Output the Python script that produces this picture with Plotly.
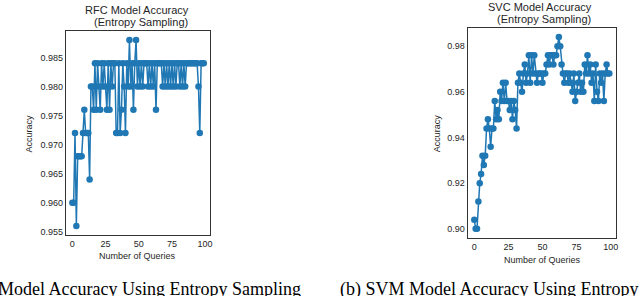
import plotly.graph_objects as go

# ---------------- data ----------------
queries = list(range(100))

rfc_accuracy = [
    0.960, 0.960, 0.972, 0.956, 0.968, 0.968, 0.968, 0.968, 0.972, 0.976,
    0.972, 0.972, 0.972, 0.964, 0.980, 0.980, 0.976, 0.984, 0.976, 0.984,
    0.980, 0.976, 0.984, 0.980, 0.984, 0.980, 0.976, 0.984, 0.976, 0.984,
    0.980, 0.984, 0.984, 0.972, 0.972, 0.984, 0.972, 0.976, 0.984, 0.980,
    0.972, 0.984, 0.980, 0.988, 0.980, 0.984, 0.976, 0.984, 0.988, 0.980,
    0.984, 0.980, 0.984, 0.980, 0.984, 0.984, 0.984, 0.980, 0.984, 0.980,
    0.984, 0.980, 0.984, 0.976, 0.984, 0.984, 0.984, 0.984, 0.980, 0.984,
    0.980, 0.984, 0.980, 0.984, 0.980, 0.984, 0.980, 0.984, 0.980, 0.984,
    0.984, 0.980, 0.984, 0.980, 0.984, 0.980, 0.984, 0.984, 0.984, 0.984,
    0.984, 0.984, 0.984, 0.984, 0.984, 0.980, 0.972, 0.984, 0.984, 0.984,
]

svc_accuracy = [
    0.904, 0.900, 0.900, 0.912, 0.920, 0.924, 0.932, 0.928, 0.932, 0.944,
    0.948, 0.944, 0.936, 0.944, 0.944, 0.956, 0.948, 0.952, 0.948, 0.960,
    0.956, 0.964, 0.956, 0.964, 0.956, 0.956, 0.952, 0.956, 0.948, 0.956,
    0.952, 0.944, 0.964, 0.968, 0.964, 0.960, 0.968, 0.972, 0.964, 0.968,
    0.976, 0.964, 0.976, 0.968, 0.976, 0.968, 0.964, 0.968, 0.968, 0.968,
    0.964, 0.968, 0.968, 0.972, 0.976, 0.972, 0.976, 0.976, 0.972, 0.976,
    0.976, 0.980, 0.984, 0.980, 0.972, 0.968, 0.964, 0.968, 0.968, 0.964,
    0.968, 0.964, 0.960, 0.968, 0.956, 0.960, 0.964, 0.968, 0.960, 0.964,
    0.960, 0.972, 0.968, 0.976, 0.968, 0.972, 0.964, 0.968, 0.956, 0.972,
    0.960, 0.956, 0.968, 0.964, 0.968, 0.956, 0.968, 0.972, 0.968, 0.968,
]

x_ticks = [0, 25, 50, 75, 100]
rfc_y_ticks = [0.955, 0.960, 0.965, 0.970, 0.975, 0.980, 0.985]
svc_y_ticks = [0.90, 0.92, 0.94, 0.96, 0.98]

rfc_title = ["RFC Model Accuracy", " (Entropy Sampling)"]
svc_title = ["SVC Model Accuracy", " (Entropy Sampling)"]
x_label = "Number of Queries"
y_label = "Accuracy"
caption_a = "(a) RFC Model Accuracy Using Entropy Sampling"
caption_b = "(b) SVM Model Accuracy Using Entropy Sampling"

# ---------------- layout helpers ----------------
W, H = 640, 296
def fx(px):
    return px / W
def fy(py):
    return 1 - py / H

BLUE = "#1f77b4"
TXT = "#262626"
SANS = "Liberation Sans, Arial, sans-serif"
SERIF = "Liberation Serif, Times New Roman, serif"

fig = go.Figure()
fig.add_trace(go.Scatter(x=queries, y=rfc_accuracy, mode="lines+markers",
                         line=dict(color=BLUE, width=1.5),
                         marker=dict(color=BLUE, size=6.5),
                         xaxis="x", yaxis="y", showlegend=False))
fig.add_trace(go.Scatter(x=queries, y=svc_accuracy, mode="lines+markers",
                         line=dict(color=BLUE, width=1.5),
                         marker=dict(color=BLUE, size=6.5),
                         xaxis="x2", yaxis="y2", showlegend=False))

axis_common = dict(showline=True, mirror=True, linecolor="#333333", linewidth=1,
                   showgrid=False, zeroline=False, ticks="",
                   tickfont=dict(family=SANS, size=9, color=TXT))

L = (66, 211, 31, 237)
R = (469, 618, 27.7, 240)

fig.update_layout(
    width=W, height=H,
    margin=dict(l=0, r=0, t=0, b=0),
    paper_bgcolor="white", plot_bgcolor="white",
    xaxis=dict(domain=[fx(L[0]), fx(L[1])], range=[-4.95, 103.95],
               tickvals=x_ticks, ticktext=[str(v) for v in x_ticks],
               anchor="y", **axis_common),
    yaxis=dict(domain=[fy(L[3]), fy(L[2])], range=[0.9544, 0.9896],
               tickvals=rfc_y_ticks, ticktext=[f"{v:.3f}" for v in rfc_y_ticks],
               anchor="x", **axis_common),
    xaxis2=dict(domain=[fx(R[0]), fx(R[1])], range=[-4.95, 103.95],
                tickvals=x_ticks, ticktext=[str(v) for v in x_ticks],
                anchor="y2", **axis_common),
    yaxis2=dict(domain=[fy(R[3]), fy(R[2])], range=[0.8958, 0.9882],
                tickvals=svc_y_ticks, ticktext=[f"{v:.2f}" for v in svc_y_ticks],
                anchor="x2", **axis_common),
)

ann = []
def add_text(text, px, py, size, family=SANS, xanchor="center", yanchor="middle",
             angle=0, color=TXT):
    ann.append(dict(text=text, x=fx(px), y=fy(py), xref="paper", yref="paper",
                    xanchor=xanchor, yanchor=yanchor, showarrow=False,
                    textangle=angle, font=dict(family=family, size=size, color=color)))

# titles
add_text(rfc_title[0], 137, 10.5, 11)
add_text(rfc_title[1], 140, 22.5, 11)
add_text(svc_title[0], 542, 6.7, 11)
add_text(svc_title[1], 544, 19.5, 11)
# axis labels
add_text(x_label, 138, 257.5, 9)
add_text(x_label, 544, 261.5, 9)
add_text(y_label, 29.5, 134, 9, angle=-90)
add_text(y_label, 438.5, 134, 9, angle=-90)
# captions (clipped by figure edges like the reference)
add_text(caption_a, 304, 291, 18, family=SERIF, xanchor="right", color="black")
add_text(caption_b, 339, 291, 18, family=SERIF, xanchor="left", color="black")

fig.update_layout(annotations=ann)
fig.write_html("out.html",
               config={"displayModeBar": False, "staticPlot": True},
               post_script="document.body.style.margin='0';document.body.style.overflow='hidden';")
